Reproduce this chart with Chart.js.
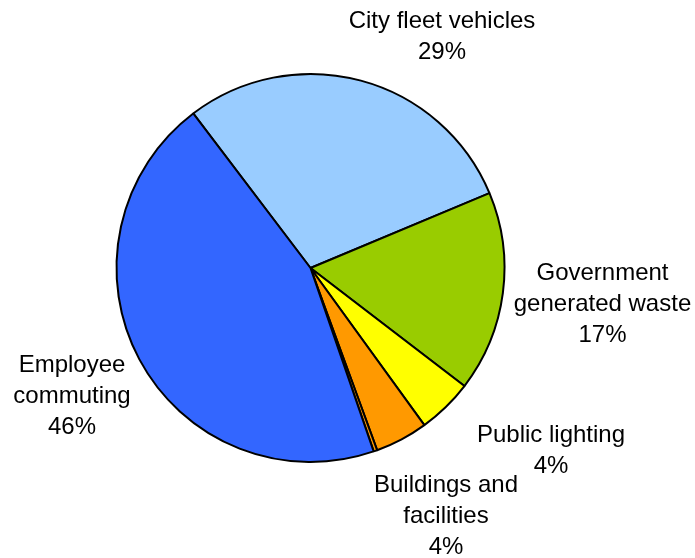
<!DOCTYPE html>
<html>
<head>
<meta charset="utf-8">
<script src="https://cdn.jsdelivr.net/npm/chart.js@4"></script>
<style>
  html, body { margin: 0; padding: 0; background: #fff; }
  #wrap { width: 695px; height: 558px; position: relative; }
</style>
</head>
<body>
<div id="wrap"><canvas id="pie"></canvas></div>
<script>
// slices in drawing order (clockwise from the City fleet edge)
const categories = ["City fleet vehicles", "Government generated waste", "Public lighting", "Buildings and facilities", "", "Employee commuting"];
const shares = [29.0, 16.7, 4.6, 4.4, 0.3, 44.9];
const pctLabels = ["29%", "17%", "4%", "4%", "", "46%"];
const colors = ["#99CCFF", "#99CC00", "#FFFF00", "#FF9900", "#FF9900", "#3366FF"];

// label text lines + where the block sits relative to pie centre
const labelLines = [
  ["City fleet vehicles"],
  ["Government", "generated waste"],
  ["Public lighting"],
  ["Buildings and", "facilities"],
  [],
  ["Employee", "commuting"],
];
const labelOffsets = [[131.5, -231], [292, 36], [240.5, 183], [135.5, 248], null, [-238.5, 128]];

const pieLabels = {
  id: "pieLabels",
  afterDraw(chart) {
    const ctx = chart.ctx;
    const arcs = chart.getDatasetMeta(0).data;
    ctx.save();
    ctx.font = "24px 'Liberation Sans', Arial, sans-serif";
    ctx.fillStyle = "#000";
    ctx.textAlign = "center";
    ctx.textBaseline = "middle";
    const lh = 31;
    arcs.forEach((arc, i) => {
      if (!labelOffsets[i]) return;
      const lines = labelLines[i].concat(pctLabels[i] ? [pctLabels[i]] : []);
      const cx = arc.x + labelOffsets[i][0];
      const cy = arc.y + labelOffsets[i][1];
      const top = cy - (lines.length - 1) * lh / 2;
      lines.forEach((t, k) => ctx.fillText(t, cx, top + k * lh));
    });
    ctx.restore();
  }
};

new Chart(document.getElementById("pie"), {
  type: "pie",
  data: {
    labels: categories,
    datasets: [{
      data: shares,
      backgroundColor: colors,
      borderColor: "#000",
      borderWidth: 2,
    }],
  },
  options: {
    responsive: true,
    maintainAspectRatio: false,
    animation: false,
    rotation: -37.2,
    radius: 194,
    layout: { padding: { left: 115, right: 189, top: 73, bottom: 95 } },
    plugins: {
      legend: { display: false },
      tooltip: { enabled: false },
    },
  },
  plugins: [pieLabels],
});
</script>
</body>
</html>
